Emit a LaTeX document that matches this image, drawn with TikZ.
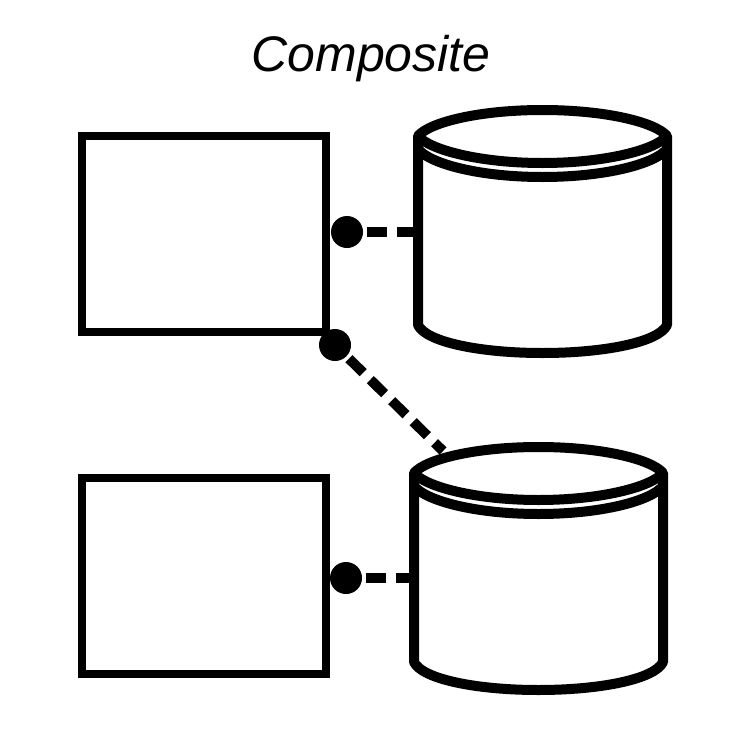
\documentclass[tikz,border=0pt]{standalone}
\usepackage{fontspec}
\setmainfont{Liberation Sans}
\begin{document}
\begin{tikzpicture}[x=1pt,y=-1pt,
  box/.style={draw=black,line width=8pt,fill=white,minimum width=244pt,minimum height=196pt,inner sep=0pt,outer sep=0pt,anchor=north west},
  dot/.style={circle,fill=black,draw=none,minimum size=32pt,inner sep=0pt,outer sep=3.5pt},
  cyl/.style={line width=10pt,line join=round,line cap=butt},
  link/.style={line width=10pt,dash pattern=on 20pt off 10pt},
  title/.style={font=\itshape\fontsize{50pt}{60pt}\selectfont,text=black,inner sep=0pt}]
\useasboundingbox (0,0) rectangle (750,750);
\fill[white] (0,0) rectangle (750,750);
\newcommand{\drumshape}[2]{%
  \begin{scope}[shift={(#1,#2)}]
    \draw[cyl] (0,26) .. controls (12,12) and (62,0) .. (124.5,0) .. controls (187,0) and (237,12) .. (249,26)
      .. controls (237,40) and (187,53) .. (124.5,53) .. controls (62,53) and (12,40) .. (0,26) -- cycle;
    \draw[cyl] (0,39) .. controls (12,54) and (62,67) .. (124.5,67) .. controls (187,67) and (237,54) .. (249,39);
    \draw[cyl] (0,26) -- (0,215) .. controls (8,232) and (62,243) .. (124.5,243) .. controls (187,243) and (241,232) .. (249,215) -- (249,26);
  \end{scope}}
\node[title] (t) at (371,59) {Composite};
\node[box] (b1) at (82,136) {};
\node[box] (b2) at (82,478) {};
\coordinate (c1) at (418,232);
\coordinate (c2) at (414,578);
\coordinate (c3) at (443,451);
\node[dot] (d1) at (347,232) {};
\node[dot] (d2) at (335,345) {};
\node[dot] (d3) at (346,578) {};
\draw[link] (d1) -- (c1);
\draw[link] (d2) -- (c3);
\draw[link] (d3) -- (c2);
\drumshape{418}{110}
\drumshape{414}{447}
\end{tikzpicture}
\end{document}
